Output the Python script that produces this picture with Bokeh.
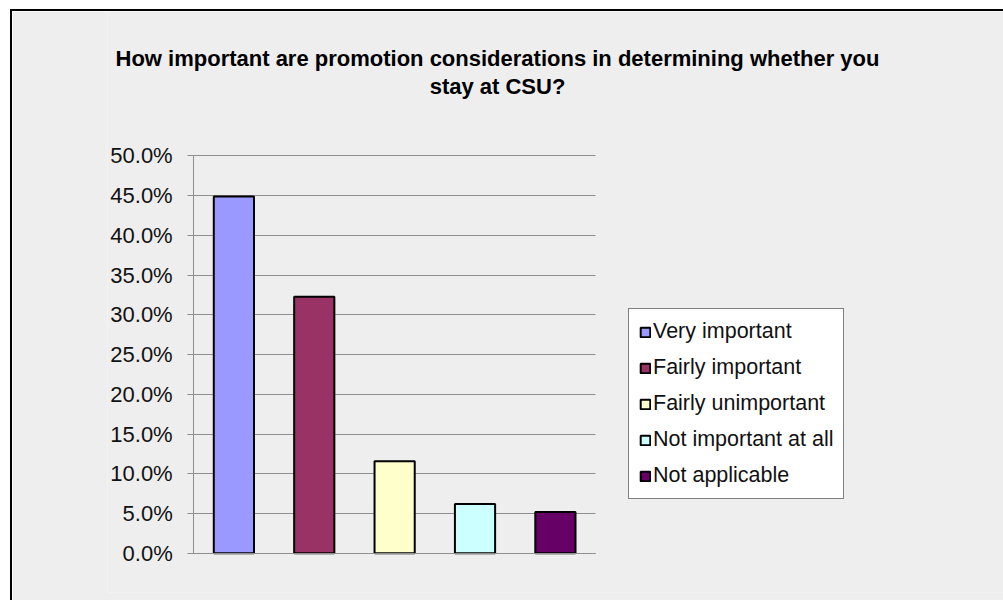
from bokeh.plotting import figure
from bokeh.models import (ColumnDataSource, Legend, LegendItem, FixedTicker,
                          PrintfTickFormatter, Label, Range1d)
from bokeh.embed import file_html
from bokeh.resources import INLINE

categories = ["Very important", "Fairly important", "Fairly unimportant", "Not important at all", "Not applicable"]
values = [44.9, 32.3, 11.6, 6.2, 5.2]
colors = ["#9999FF", "#993366", "#FFFFCC", "#CCFFFF", "#660066"]
y_ticks = [0, 5, 10, 15, 20, 25, 30, 35, 40, 45, 50]
title_lines = ["How important are promotion considerations in determining whether you", "stay at CSU?"]

FONT = "Liberation Sans"
BG = "#eeeeee"
GRID = "#8f8f8f"

n = len(categories)
xs = [i + 0.5 for i in range(n)]
src = ColumnDataSource(dict(x=xs, cat=categories, val=values, col=colors))

# frame: left 107, right 1003, top 11, bottom 590; axes at x=193 / y=551
# -> 80.2 px per category, 7.92 px per 1%
p = figure(x_range=Range1d(-86 / 80.2, 810 / 80.2), y_range=Range1d(-39 / 7.92, 540 / 7.92),
           width=993, height=591, output_backend="svg", toolbar_location=None,
           min_border_left=95, min_border_right=0, min_border_top=0, min_border_bottom=10)
p.margin = (9, 0, 0, 10)
p.styles = {"border-top": "2px solid black", "border-left": "2px solid black", "box-sizing": "border-box"}
p.background_fill_color = BG
p.border_fill_color = BG
p.outline_line_color = None

r = p.vbar(x="x", top="val", width=0.5, source=src, fill_color="col",
           line_color="black", line_width=2)

p.xgrid.grid_line_color = None
p.ygrid.grid_line_color = GRID
p.ygrid.grid_line_width = 1
p.ygrid.cross_bounds = (0, n)

p.yaxis.fixed_location = 0
p.yaxis.ticker = FixedTicker(ticks=y_ticks)
p.yaxis.bounds = (0, 50)
p.yaxis.formatter = PrintfTickFormatter(format="%.1f%%")
p.yaxis.axis_line_color = GRID
p.yaxis.major_tick_line_color = GRID
p.yaxis.major_tick_out = 6
p.yaxis.major_tick_in = 0
p.yaxis.minor_tick_line_color = None
p.yaxis.major_label_standoff = 15
p.yaxis.major_label_text_font = FONT
p.yaxis.major_label_text_font_size = "22px"
p.yaxis.major_label_text_color = "#111111"

p.xaxis.fixed_location = 0
p.xaxis.ticker = FixedTicker(ticks=[])
p.xaxis.bounds = (0, n)
p.xaxis.axis_line_color = GRID
p.xaxis.major_tick_line_color = None
p.xaxis.minor_tick_line_color = None
p.xaxis.major_label_text_font_size = "0px"
p.xaxis.major_label_standoff = 0

items = [LegendItem(label=c, renderers=[r], index=i) for i, c in enumerate(categories)]
legend = Legend(items=items, location=(521, 93))
legend.background_fill_color = "white"
legend.background_fill_alpha = 1
legend.border_line_color = "black"
legend.border_line_width = 1
legend.label_text_font = FONT
legend.label_text_font_size = "21.5px"
legend.label_text_color = "#111111"
legend.glyph_width = 12
legend.glyph_height = 12
legend.label_height = 20
legend.label_standoff = 2
legend.spacing = 11
legend.padding = 10
legend.margin = 0
p.add_layout(legend, "center")

for txt, yy in zip(title_lines, [534.5, 506.5]):
    p.add_layout(Label(x=390, y=yy, x_units="screen", y_units="screen", text=txt,
                       text_align="center", text_baseline="alphabetic",
                       text_font=FONT, text_font_style="bold", text_font_size="22px",
                       text_color="black"))

open("out.html", "w").write(file_html(p, INLINE))
